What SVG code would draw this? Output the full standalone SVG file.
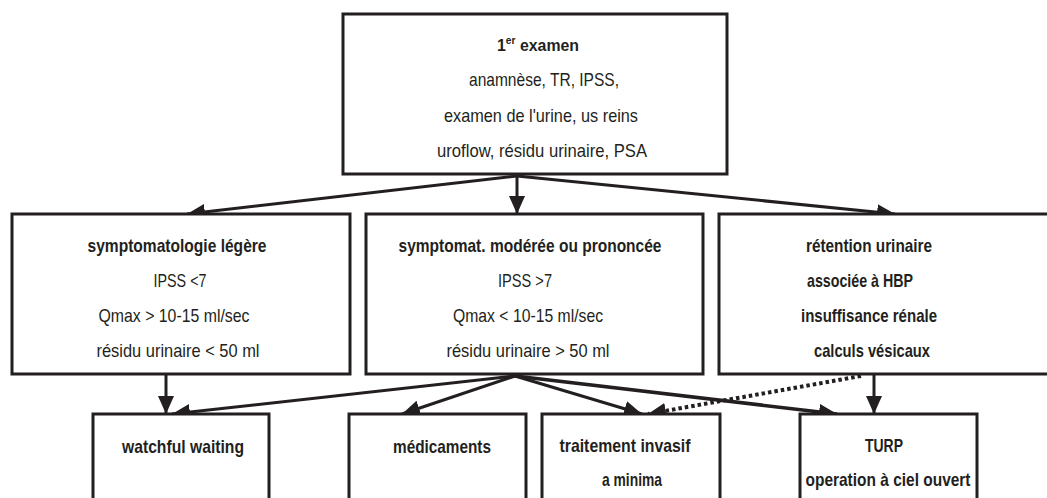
<svg xmlns="http://www.w3.org/2000/svg" width="1047" height="498" viewBox="0 0 1047 498">
<style>
.box{fill:#fff;stroke:#231f20;stroke-width:3}
.t{font-family:"Liberation Sans",Arial,sans-serif;font-size:18.5px;fill:#231f20;text-anchor:middle}
.b{font-weight:bold}
.c{stroke:#231f20;stroke-width:3;fill:none;marker-end:url(#ah)}
.d{stroke:#231f20;stroke-width:4;fill:none;stroke-dasharray:3.5 3;marker-end:url(#ah)}
</style>
<defs>
<marker id="ah" markerUnits="userSpaceOnUse" markerWidth="20" markerHeight="18" refX="18" refY="8" orient="auto">
<path d="M0,0 L18,8 L0,16 z" fill="#231f20"/>
</marker>
</defs>
<rect width="1047" height="498" fill="#fff"/>
<g id="connectors">
<line class="c" x1="517" y1="176" x2="187" y2="214"/>
<line class="c" x1="517" y1="176" x2="517" y2="214"/>
<line class="c" x1="517" y1="176" x2="895" y2="214"/>
<line class="c" x1="166" y1="375" x2="166" y2="414"/>
<line class="c" x1="515" y1="376" x2="172" y2="414"/>
<line class="c" x1="515" y1="376" x2="402" y2="414"/>
<line class="c" x1="515" y1="376" x2="642" y2="414"/>
<line class="c" x1="515" y1="376" x2="837" y2="414" style="stroke-width:3.5"/>
<line class="c" x1="874" y1="375" x2="874" y2="414"/>
<line class="d" x1="861" y1="376" x2="648" y2="414"/>
</g>
<g id="n-examen">
<rect class="box" x="343" y="14" width="384" height="160"/>
<text class="t b" x="538" y="51" style="font-size:17px" textLength="82" lengthAdjust="spacingAndGlyphs">1<tspan font-size="11" dy="-7">er</tspan><tspan dy="7"> examen</tspan></text>
<text class="t" x="544" y="86" textLength="150" lengthAdjust="spacingAndGlyphs">anamnèse, TR, IPSS,</text>
<text class="t" x="541" y="122" textLength="194" lengthAdjust="spacingAndGlyphs">examen de l'urine, us reins</text>
<text class="t" x="542" y="157" textLength="210" lengthAdjust="spacingAndGlyphs">uroflow, résidu urinaire, PSA</text>
</g>
<g id="n-legere">
<rect class="box" x="12" y="214" width="338" height="160"/>
<text class="t b" x="177" y="252" textLength="179" lengthAdjust="spacingAndGlyphs">symptomatologie légère</text>
<text class="t" x="180" y="287" textLength="53" lengthAdjust="spacingAndGlyphs">IPSS &lt;7</text>
<text class="t" x="174" y="322" textLength="151" lengthAdjust="spacingAndGlyphs">Qmax &gt; 10-15 ml/sec</text>
<text class="t" x="178" y="357" textLength="163" lengthAdjust="spacingAndGlyphs">résidu urinaire &lt; 50 ml</text>
</g>
<g id="n-moderee">
<rect class="box" x="366" y="214" width="337" height="160"/>
<text class="t b" x="530" y="252" textLength="263" lengthAdjust="spacingAndGlyphs">symptomat. modérée ou prononcée</text>
<text class="t" x="525" y="287" textLength="54" lengthAdjust="spacingAndGlyphs">IPSS &gt;7</text>
<text class="t" x="528" y="322" textLength="150" lengthAdjust="spacingAndGlyphs">Qmax &lt; 10-15 ml/sec</text>
<text class="t" x="528" y="357" textLength="163" lengthAdjust="spacingAndGlyphs">résidu urinaire &gt; 50 ml</text>
</g>
<g id="n-retention">
<rect class="box" x="719" y="214" width="345" height="160"/>
<text class="t b" x="869" y="252" textLength="126" lengthAdjust="spacingAndGlyphs">rétention urinaire</text>
<text class="t b" x="860" y="287" textLength="106" lengthAdjust="spacingAndGlyphs">associée à HBP</text>
<text class="t b" x="869" y="322" textLength="136" lengthAdjust="spacingAndGlyphs">insuffisance rénale</text>
<text class="t b" x="872" y="357" textLength="116" lengthAdjust="spacingAndGlyphs">calculs vésicaux</text>
</g>
<g id="n-watchful">
<rect class="box" x="93" y="414" width="176" height="100"/>
<text class="t b" x="183" y="453" textLength="122" lengthAdjust="spacingAndGlyphs">watchful waiting</text>
</g>
<g id="n-medicaments">
<rect class="box" x="349" y="414" width="177" height="100"/>
<text class="t b" x="442" y="453" textLength="98" lengthAdjust="spacingAndGlyphs">médicaments</text>
</g>
<g id="n-invasif">
<rect class="box" x="542" y="414" width="178" height="100"/>
<text class="t b" x="625" y="452" textLength="131" lengthAdjust="spacingAndGlyphs">traitement invasif</text>
<text class="t b" x="632" y="486" textLength="60" lengthAdjust="spacingAndGlyphs">a minima</text>
</g>
<g id="n-turp">
<rect class="box" x="800" y="414" width="177" height="100"/>
<text class="t b" x="884" y="452" textLength="38" lengthAdjust="spacingAndGlyphs">TURP</text>
<text class="t b" x="888" y="486" textLength="165" lengthAdjust="spacingAndGlyphs">operation à ciel ouvert</text>
</g>
</svg>
